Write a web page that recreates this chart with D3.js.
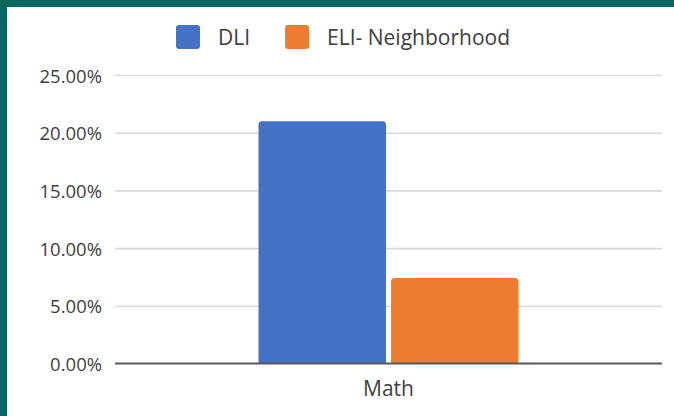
<!DOCTYPE html>
<html><head><meta charset="utf-8">
<script src="https://cdn.jsdelivr.net/npm/d3@7"></script>
<style>
html,body{margin:0;padding:0;background:#fff;}
svg{display:block;}
text{font-family:"Open Sans",sans-serif;}
</style></head>
<body>
<svg id="chart" width="674" height="416"></svg>
<script>
const categories = ["Math"];
const seriesNames = ["DLI", "ELI- Neighborhood"];
const dliValues = [0.21];
const eliValues = [0.074];
const yTicks = [0, 0.05, 0.10, 0.15, 0.20, 0.25];
const colors = ["#4472C4", "#ED7D31"];

const seriesValues = [dliValues, eliValues];
const data = categories.map((c, i) => ({
  cat: c,
  vals: seriesNames.map((s, j) => ({ s, v: seriesValues[j][i], j }))
}));

const W = 674, H = 416;
const svg = d3.select("#chart");
svg.append("rect").attr("width", W).attr("height", H).attr("fill", "#fff");
// teal frame (top and left)
svg.append("rect").attr("x", 0).attr("y", 0).attr("width", W).attr("height", 7).attr("fill", "#03695F");
svg.append("rect").attr("x", 0).attr("y", 0).attr("width", 7).attr("height", H).attr("fill", "#03695F");

const plot = { left: 115, right: 662, top: 75, bottom: 363.5 };

const y = d3.scaleLinear().domain([0, 0.25]).range([plot.bottom, plot.top]);
const x0 = d3.scaleBand().domain(categories).range([plot.left, plot.right]).paddingInner(0).paddingOuter(0.552);
const x1 = d3.scaleBand().domain(seriesNames).range([0, x0.bandwidth()]).paddingInner(0.038);

// gridlines
const yAxis = d3.axisLeft(y).tickValues(yTicks).tickFormat(d3.format(".2%")).tickSize(0).tickPadding(0);
const g = svg.append("g").attr("transform", `translate(${plot.left},0)`);
g.call(d3.axisLeft(y).tickValues(yTicks.filter(t => t > 0)).tickSize(-(plot.right - plot.left)).tickFormat(""))
  .call(s => s.select(".domain").remove())
  .call(s => s.selectAll("line").attr("stroke", "#d9d9d9").attr("stroke-width", 1.6));

// tick labels
const gl = svg.append("g").attr("transform", `translate(102,0)`);
gl.call(yAxis)
  .call(s => s.select(".domain").remove())
  .call(s => s.selectAll("text").attr("fill", "#404040").attr("font-size", 18.5).attr("dy", "0.38em"));

// bars with rounded top corners
function topRounded(x, yTop, w, h, r) {
  r = Math.min(r, w / 2, h);
  return `M${x},${yTop + h}V${yTop + r}Q${x},${yTop} ${x + r},${yTop}H${x + w - r}Q${x + w},${yTop} ${x + w},${yTop + r}V${yTop + h}Z`;
}
const groups = svg.append("g").selectAll("g").data(data).join("g")
  .attr("transform", d => `translate(${x0(d.cat)},0)`);
groups.selectAll("path").data(d => d.vals).join("path")
  .attr("fill", d => colors[d.j])
  .attr("d", d => topRounded(x1(d.s), y(d.v), x1.bandwidth(), y(0) - y(d.v), 3.5));

// baseline
svg.append("line").attr("x1", plot.left).attr("x2", plot.right)
  .attr("y1", y(0)).attr("y2", y(0)).attr("stroke", "#595959").attr("stroke-width", 2);

// category labels
const xAxis = d3.axisBottom(x0).tickSize(0).tickPadding(0);
svg.append("g").attr("transform", `translate(0,${y(0)})`).call(xAxis)
  .call(s => s.select(".domain").remove())
  .call(s => s.selectAll("text").attr("fill", "#404040").attr("font-size", 21).attr("dy", "1.55em"));

// legend
const legend = svg.append("g");
let cx = 0;
seriesNames.forEach((s, i) => {
  const it = legend.append("g");
  it.append("rect").attr("x", 0).attr("y", -12).attr("width", 24).attr("height", 24).attr("rx", 3).attr("fill", colors[i]);
  const t = it.append("text").attr("x", 42).attr("y", 0).attr("dy", "0.36em")
    .attr("font-size", 21).attr("fill", "#404040").text(s);
  const w = 42 + t.node().getComputedTextLength();
  it.attr("transform", `translate(${cx},0)`);
  cx += w + 35;
});
const total = cx - 35;
legend.attr("transform", `translate(${(W - total) / 2 + 6},37)`);
</script>
</body></html>
